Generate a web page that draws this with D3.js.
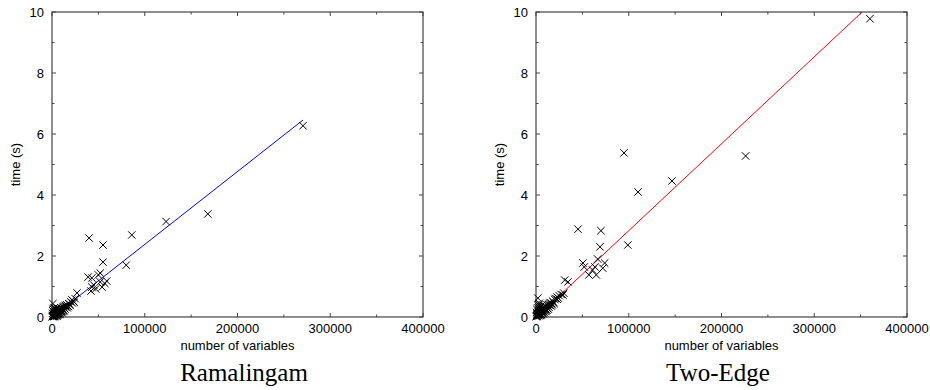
<!DOCTYPE html>
<html>
<head>
<meta charset="utf-8">
<script src="https://cdn.jsdelivr.net/npm/d3@7"></script>
<style>
  body { margin: 0; background: #fff; }
  svg text { font-family: "Liberation Sans", Arial, sans-serif; }
</style>
</head>
<body>
<script>
// Data
const xTicks = [0, 100000, 200000, 300000, 400000];
const yTicks = [0, 2, 4, 6, 8, 10];
const titles = ['Ramalingam', 'Two-Edge'];
const lineColors = ['#0000ff', '#ff0000'];

// Ramalingam: [number of variables, time (s)]
const ramalingam = [
    [300, 0.01], [500, 0.02], [800, 0.05], [1000, 0.44], [1200, 0.03], [1500, 0.08], [1800, 0.10],
    [2000, 0.04], [2200, 0.15], [2500, 0.06], [2800, 0.12], [3000, 0.20], [3200, 0.08], [3500, 0.10],
    [3800, 0.25], [4000, 0.07], [4200, 0.12], [4500, 0.18], [4800, 0.10], [5000, 0.30], [5200, 0.14],
    [5500, 0.08], [5800, 0.20], [6000, 0.12], [6300, 0.16], [6600, 0.22], [7000, 0.10], [7300, 0.18],
    [7600, 0.26], [8000, 0.14], [8400, 0.20], [8800, 0.24], [9200, 0.16], [9600, 0.30], [10000, 0.22],
    [10500, 0.18], [11000, 0.28], [11500, 0.24], [12000, 0.34], [12500, 0.22], [13000, 0.30],
    [13500, 0.36], [14000, 0.26], [15000, 0.32], [16000, 0.40], [17000, 0.36], [18000, 0.44],
    [19000, 0.42], [20000, 0.50], [21500, 0.56], [23000, 0.52], [25000, 0.60], [27000, 0.79],
    [600, 0.12], [900, 0.20], [1400, 0.02], [1700, 0.25], [2400, 0.30], [2600, 0.01], [3300, 0.15],
    [3600, 0.03], [4400, 0.05], [4600, 0.26], [5400, 0.03], [6200, 0.06], [6800, 0.28], [7800, 0.08],
    [9000, 0.10], [10800, 0.14], [11800, 0.18], [13200, 0.20], [14500, 0.38], [16500, 0.30],
    [17500, 0.34], [19500, 0.38], [22000, 0.46], [24000, 0.48],
    [39000, 1.31], [40000, 2.59], [43000, 1.28], [43000, 0.98], [42000, 0.85], [45000, 1.05],
    [47000, 0.92], [50000, 1.38], [52000, 1.44], [52000, 1.15], [54000, 0.98], [55000, 1.80],
    [55000, 2.36], [57000, 1.10], [59000, 1.18], [80000, 1.70], [86000, 2.69], [123000, 3.13],
    [168000, 3.38], [270600, 6.27]
];

// Two-Edge: [number of variables, time (s)]
const twoEdge = [
    [300, 0.01], [500, 0.03], [800, 0.06], [1000, 0.10], [1200, 0.04], [1500, 0.12], [1800, 0.08],
    [2000, 0.62], [2200, 0.18], [2500, 0.08], [2800, 0.14], [3000, 0.40], [3200, 0.10], [3500, 0.16],
    [3800, 0.30], [4000, 0.10], [4200, 0.14], [4500, 0.22], [4800, 0.12], [5000, 0.36], [5200, 0.18],
    [5500, 0.10], [5800, 0.24], [6000, 0.16], [6300, 0.20], [6600, 0.28], [7000, 0.14], [7300, 0.22],
    [7600, 0.32], [8000, 0.18], [8400, 0.26], [8800, 0.30], [9200, 0.20], [9600, 0.36], [10000, 0.28],
    [10500, 0.24], [11000, 0.34], [11500, 0.30], [12000, 0.40], [12500, 0.28], [13000, 0.36],
    [13500, 0.42], [14000, 0.32], [15000, 0.38], [16000, 0.46], [17000, 0.44], [18000, 0.52],
    [19000, 0.48], [20000, 0.58], [21000, 0.60], [22600, 0.66], [24000, 0.62], [25000, 0.70],
    [600, 0.15], [900, 0.25], [1400, 0.02], [1700, 0.30], [2400, 0.05], [2600, 0.35], [3300, 0.04],
    [3600, 0.45], [4400, 0.06], [4600, 0.30], [5400, 0.05], [6200, 0.08], [6800, 0.40], [7800, 0.10],
    [9000, 0.14], [10800, 0.18], [11800, 0.22], [13200, 0.26], [14500, 0.46], [16500, 0.36],
    [17500, 0.40], [19500, 0.44], [23000, 0.58],
    [27000, 0.74], [29000, 0.72], [30000, 0.78], [31000, 1.21], [34500, 1.15], [45300, 2.88],
    [50600, 1.77], [52000, 1.64], [57000, 1.38], [61000, 1.54], [63500, 1.64], [65000, 1.38],
    [66500, 1.90], [69000, 2.30], [70000, 2.83], [72000, 1.60], [74000, 1.77], [94900, 5.38],
    [99000, 2.36], [110000, 4.10], [146600, 4.46], [226000, 5.28], [360000, 9.78]
];

// linear fits [slope, intercept]
const fits = [[2.39e-5, -0.01], [2.85e-5, -0.02]];
const series = [ramalingam, twoEdge];

const W = 930, H = 390;
const svg = d3.select('body').append('svg')
    .attr('width', W)
    .attr('height', H);

// panel layout: plot rectangles and title centres
const panels = [
    { left: 52, right: 423, titleX: 244 },
    { left: 536, right: 907, titleX: 718 }
];
const plotTop = 12, plotBottom = 317;
const frameColor = '#444';

panels.forEach((p, i) => {
    const data = series[i];
    const x = d3.scaleLinear().domain([0, 400000]).range([p.left, p.right]);
    const y = d3.scaleLinear().domain([0, 10]).range([plotBottom, plotTop]);
    const g = svg.append('g');

    const clipId = 'clip' + i;
    svg.append('defs').append('clipPath').attr('id', clipId)
        .append('rect')
        .attr('x', p.left).attr('y', plotTop)
        .attr('width', p.right - p.left).attr('height', plotBottom - plotTop);

    // minor ticks (every 50000 / every 1) on all four sides, pointing inwards
    const xMinor = d3.range(50000, 400000, 100000);
    const yMinor = d3.range(1, 10, 2);
    const tickG = g.append('g').attr('stroke', frameColor).attr('stroke-width', 1);
    xTicks.concat(xMinor).forEach(v => {
        const len = xTicks.includes(v) ? 4 : 2.5;
        tickG.append('line').attr('x1', x(v)).attr('x2', x(v)).attr('y1', plotBottom).attr('y2', plotBottom - len);
        tickG.append('line').attr('x1', x(v)).attr('x2', x(v)).attr('y1', plotTop).attr('y2', plotTop + len);
    });
    yTicks.concat(yMinor).forEach(v => {
        const len = yTicks.includes(v) ? 4 : 2.5;
        tickG.append('line').attr('y1', y(v)).attr('y2', y(v)).attr('x1', p.left).attr('x2', p.left + len);
        tickG.append('line').attr('y1', y(v)).attr('y2', y(v)).attr('x1', p.right).attr('x2', p.right - len);
    });

    // frame
    g.append('rect')
        .attr('x', p.left).attr('y', plotTop)
        .attr('width', p.right - p.left).attr('height', plotBottom - plotTop)
        .attr('fill', 'none')
        .attr('stroke', frameColor)
        .attr('stroke-width', 1.2);

    // tick labels
    g.selectAll('.xl').data(xTicks).enter().append('text')
        .attr('x', d => x(d)).attr('y', plotBottom + 16)
        .attr('text-anchor', 'middle')
        .attr('font-size', 13)
        .text(d => d);
    g.selectAll('.yl').data(yTicks).enter().append('text')
        .attr('x', p.left - 8).attr('y', d => y(d) + 5)
        .attr('text-anchor', 'end')
        .attr('font-size', 13)
        .text(d => d);

    // axis titles
    g.append('text')
        .attr('x', (p.left + p.right) / 2).attr('y', plotBottom + 33)
        .attr('text-anchor', 'middle')
        .attr('font-size', 13)
        .text('number of variables');
    g.append('text')
        .attr('transform', `translate(${p.left - 32},${(plotTop + plotBottom) / 2}) rotate(-90)`)
        .attr('text-anchor', 'middle')
        .attr('font-size', 13)
        .text('time (s)');

    // fit line
    const [m, c] = fits[i];
    const xMax = d3.max(data, d => d[0]);
    g.append('line')
        .attr('clip-path', `url(#${clipId})`)
        .attr('x1', x(0)).attr('y1', y(c))
        .attr('x2', x(xMax)).attr('y2', y(m * xMax + c))
        .attr('stroke', lineColors[i])
        .attr('stroke-width', 1);

    // points as crosses
    const s = 3.7;
    g.append('g').selectAll('path').data(data).enter().append('path')
        .attr('d', d => {
            const px = x(d[0]), py = y(d[1]);
            return `M${px - s},${py - s}L${px + s},${py + s}M${px - s},${py + s}L${px + s},${py - s}`;
        })
        .attr('stroke', '#000')
        .attr('stroke-width', 1)
        .attr('fill', 'none');

    // panel caption
    svg.append('text')
        .attr('x', p.titleX).attr('y', 381)
        .attr('text-anchor', 'middle')
        .style('font-family', '"Liberation Serif", "Times New Roman", serif')
        .attr('font-size', 25)
        .text(titles[i]);
});
</script>
</body>
</html>
